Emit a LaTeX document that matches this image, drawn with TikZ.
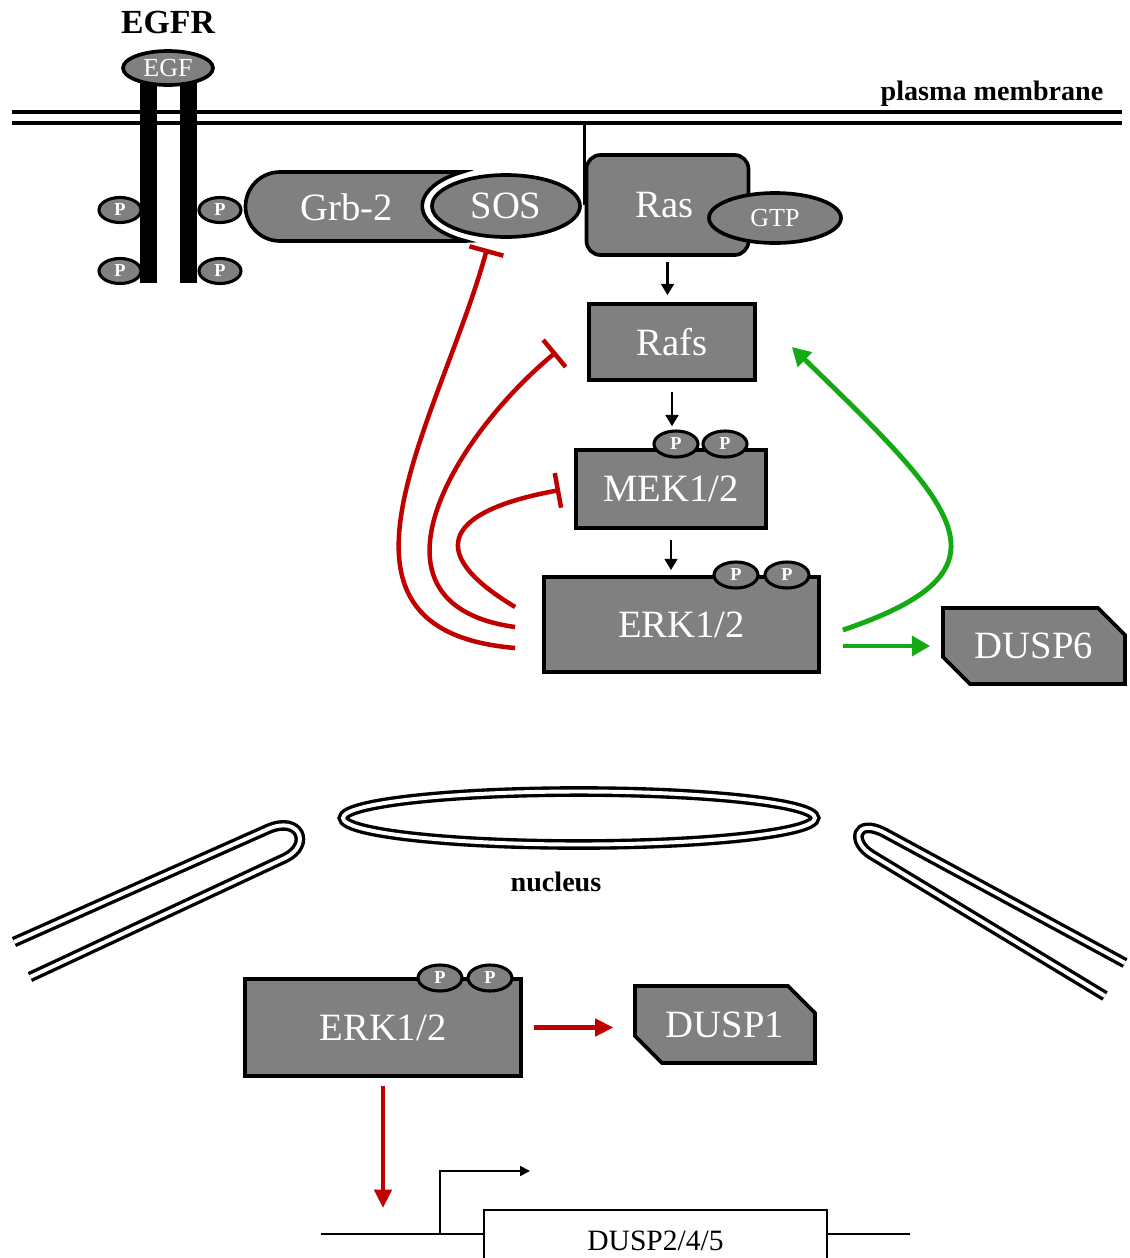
\documentclass[tikz,border=0pt]{standalone}
\usepackage{fontspec}
\setmainfont{Liberation Serif}
\usepackage{tikz}
\usetikzlibrary{arrows.meta}
\usetikzlibrary{shapes.geometric}
\usetikzlibrary{shapes.misc}
\usetikzlibrary{calc}
\definecolor{protgray}{RGB}{128,128,128}
\definecolor{inhred}{RGB}{192,0,0}
\definecolor{actgreen}{RGB}{20,170,20}
\newcommand{\pxu}{0.7113pt}
\newcommand{\labfont}{\fontsize{27.5}{30}\selectfont}
\newcommand{\smallfont}{\fontsize{18.5}{20}\selectfont}
\newcommand{\pfont}{\bfseries\fontsize{13}{14}\selectfont}

\begin{document}
\begin{tikzpicture}[x=0.025cm,y=-0.025cm,
  prot/.style={draw=black,line width=2.6pt,fill=protgray,text=white,font=\labfont,inner sep=0pt},
  oval/.style={prot,ellipse},
  phos/.style={draw=black,line width=2.2pt,fill=protgray,text=white,font=\pfont,ellipse,inner sep=0pt,
    minimum width=44*\pxu,minimum height=26*\pxu},
  dusp/.style={prot,chamfered rectangle,chamfered rectangle corners={north east,south west},
    chamfered rectangle xsep=10pt,chamfered rectangle ysep=10pt},
  sig/.style={-{Triangle[length=8pt,width=9pt]},line width=1.9pt},
  act/.style={-{Triangle[length=13pt,width=14pt]},line width=3.5pt,draw=actgreen},
  inhib/.style={-{Bar[width=25pt]},line width=3.2pt,draw=inhred},
  nucarrow/.style={-{Triangle[length=13pt,width=12pt]},line width=3.5pt,draw=inhred},
  envelope/.style={draw=black,line width=2.4pt,double=white,double distance=2.8pt},
  memlabel/.style={font=\bfseries\fontsize{20}{22}\selectfont}]
\useasboundingbox (0,0) rectangle (1130,1258);

% plasma membrane
\draw[line width=2.6pt] (12,112) -- (1122,112);
\draw[line width=2.6pt] (12,123) -- (1122,123);
\coordinate (pmin) at (0,123);
\node[memlabel] (pmlabel) at (992,94) {plasma membrane};

% receptor
\fill (140,82) rectangle (157,283);
\fill (180,82) rectangle (197,283);
\node[oval,minimum width=90*\pxu,minimum height=34*\pxu,font=\smallfont] (egf) at (168,68) {EGF};
\node[font=\bfseries\fontsize{24}{26}\selectfont] (egfr) at (168,22) {EGFR};
\foreach \xx/\yy [count=\i] in {120/210,220/210,120/271,220/271}
  \node[phos,minimum width=42*\pxu,minimum height=25*\pxu] (pr\i) at (\xx,\yy) {P};

% Grb-2 and SOS
\draw[line width=2.6pt,fill=protgray] (465,241) -- (280,241)
  arc[start angle=90,end angle=270,radius=34.5] -- (462,172)
  arc[start angle=238.2,end angle=119,x radius=84,y radius=40] -- cycle;
\node[text=white,font=\labfont] (grb) at (347,207) {Grb-2};
\node[oval,minimum width=148*\pxu,minimum height=62*\pxu] (sos) at (506,206) {SOS};

% Ras
\node[prot,rounded corners=14*\pxu,minimum width=162*\pxu,minimum height=100*\pxu] (ras) at (667.5,205) {Ras\hspace*{4pt}};
\draw[line width=2.6pt] (ras.west |- pmin) -- (ras.west);
\node[oval,minimum width=132*\pxu,minimum height=50*\pxu,font=\smallfont] (gtp) at (775,218) {GTP};

% cascade
\node[prot,minimum width=166*\pxu,minimum height=76*\pxu] (rafs) at (672,342) {Rafs};
\node[prot,minimum width=190*\pxu,minimum height=78*\pxu] (mek) at (671,489) {MEK1/2};
\node[prot,minimum width=275*\pxu,minimum height=95*\pxu] (erk) at (681.5,624.5) {ERK1/2};
\node[phos] (pm1) at (676,444) {P};
\node[phos] (pm2) at (725,444) {P};
\node[phos] (pe1) at (736,575) {P};
\node[phos] (pe2) at (787,575) {P};
\node[dusp,minimum width=182*\pxu,minimum height=76*\pxu] (dusp6) at (1034,646) {DUSP6};

\draw[sig,shorten <=3.6pt,shorten >=5pt] (ras.south) -- (ras.south |- rafs.north);
\draw[sig,shorten <=7pt,shorten >=15.6pt] (rafs.south) -- (rafs.south |- mek.north);
\draw[sig,shorten <=7pt,shorten >=3.6pt] (mek.south) -- (mek.south |- erk.north);

% feedback
\draw[act,shorten <=15.6pt,shorten >=7.8pt] (erk.east |- dusp6.west) -- (dusp6.west);
\draw[act] ($(erk.east)+(22,5.5)$) .. controls (1020,570) and (960,510) .. ($(rafs.east)+(35,5)$);
\draw[inhib] ($(erk.west)+(-27,23.5)$) .. controls (300,630) and (440,420) .. ($(sos.south)+(-19,10)$);
\draw[inhib] ($(erk.west)+(-27,2.5)$) .. controls (355,605) and (450,440) .. ($(rafs.west)+(-31,10)$);
\draw[inhib] ($(erk.west)+(-27,-17.5)$) .. controls (420,550) and (450,510) .. ($(mek.west)+(-14,1)$);

% nucleus
\draw[envelope] (579,818) ellipse [x radius=236,y radius=26.5];
\draw[envelope] (14,942) -- (268,829) .. controls (300,815) and (312,845) .. (285,858) -- (30,977);
\draw[envelope] (1125,963) -- (885,833) .. controls (855,817) and (850,842) .. (872,855) -- (1105,996);
\node[memlabel] (nuclabel) at (556,882) {nucleus};

\node[prot,minimum width=276*\pxu,minimum height=97*\pxu] (nerk) at (383,1027.5) {ERK1/2};
\node[phos] (pn1) at (440,978) {P};
\node[phos] (pn2) at (490,978) {P};
\node[dusp,minimum width=180*\pxu,minimum height=77*\pxu] (dusp1) at (725,1024.5) {DUSP1};
\draw[nucarrow,shorten <=7.8pt,shorten >=14pt] (nerk.east) -- (nerk.east -| dusp1.west);

% gene
\coordinate (dnaL) at (321,1234);
\coordinate (dnaR) at (910,1234);
\coordinate (tss) at (440,1234);
\coordinate (tssend) at (530,1171);
\draw[line width=1.5pt] (dnaL) -- (dnaR);
\draw[nucarrow,shorten <=5.7pt,shorten >=18.5pt] (nerk.south) -- (nerk.south |- dnaL);
\draw[-{Triangle[length=7pt,width=7pt]},line width=1.4pt] (tss) |- (tssend);
\node[draw,line width=1.7pt,fill=white,minimum width=343*\pxu,minimum height=62*\pxu,
  font=\fontsize{21}{23}\selectfont] (gene) at (655.5,1241) {DUSP2/4/5};
\end{tikzpicture}
\end{document}
